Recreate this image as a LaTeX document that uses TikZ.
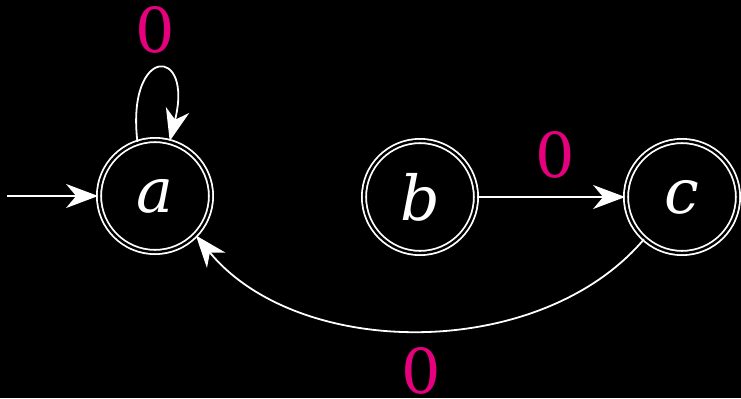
\documentclass[tikz,border=0pt]{standalone}
\usepackage{fontspec}
\setmainfont{DejaVu Serif}
\usetikzlibrary{arrows.meta}
\definecolor{zeropink}{RGB}{230,0,126}

\begin{document}
\begin{tikzpicture}[x=0.5pt, y=-0.5pt, line width=0.9pt, white,
    state/.style={circle, draw=white, double=black, double distance=1.2pt,
      minimum size=56pt, inner sep=0pt, font=\fontsize{31}{36}\selectfont\itshape},
    lbl/.style={zeropink, inner sep=0pt, font=\fontsize{31}{36}\selectfont},
    >={Stealth[length=16pt, width=12pt, inset=5pt]}]
  % Background and frame
  \fill[black] (0,0) rectangle (741,398);
  \useasboundingbox (0,0) rectangle (741,398);
  % States
  \node[state] (a) at (155,196) {a};
  \node[state] (b) at (420,197) {b};
  \node[state] (c) at (682,197) {c};
  \coordinate (start) at (7,196);
  % Transitions
  \draw[->] (start) -- (a);
  \draw[->] (a.108) .. controls (126,45) and (194,45) .. (a.75);
  \draw[->] (b) -- (c);
  \draw[->] (c.228) .. controls (540,362) and (298,360) .. (a.316);
  % Labels
  \node[lbl] (l1) at (155,30) {0};
  \node[lbl] (l2) at (555,155) {0};
  \node[lbl] (l3) at (421,371) {0};
\end{tikzpicture}
\end{document}
